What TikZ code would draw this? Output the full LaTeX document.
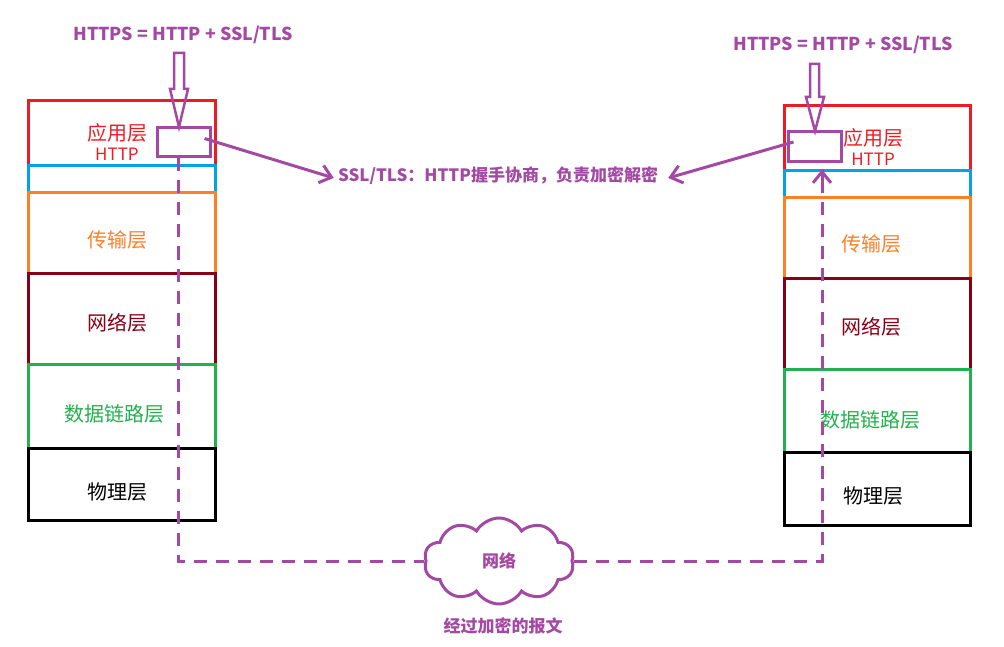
\documentclass[tikz,border=0pt]{standalone}
\usepackage{fontspec}
\setmainfont{Noto Sans CJK SC}
\usetikzlibrary{shapes.symbols,arrows.meta,calc}
\definecolor{cred}{HTML}{ED1C24}
\definecolor{cblue}{HTML}{00A2E8}
\definecolor{corange}{HTML}{FF7F27}
\definecolor{cdred}{HTML}{880015}
\definecolor{cgreen}{HTML}{22B14C}
\definecolor{cpurple}{HTML}{A349A4}
\begin{document}
\begin{tikzpicture}[x=1pt,y=-1pt,
  layerbox/.style={draw,line width=3pt,inner sep=0pt,minimum width=187pt},
  layertext/.style={inner sep=0pt,font=\fontsize{20}{24}\selectfont},
  httptext/.style={inner sep=0pt,text=cred,font=\fontsize{17}{20}\selectfont},
  ptext/.style={inner sep=0pt,text=cpurple,font=\fontsize{17}{20}\selectfont\bfseries},
  ttext/.style={inner sep=0pt,text=cpurple,font=\fontsize{17.8}{20}\selectfont\bfseries},
  smallbox/.style={draw=cpurple,line width=3pt,inner sep=0pt,minimum width=53pt,minimum height=29pt},
  hollow/.style={draw=cpurple,line width=2.5pt,line join=miter},
  pline/.style={draw=cpurple,line width=3pt,-{Straight Barb[length=11pt,width=18pt,line width=3pt]}},
  dline/.style={draw=cpurple,line width=3pt,dash pattern=on 13pt off 9pt}]
\useasboundingbox (0,0) rectangle (1004,647);
% left stack
\node[layerbox,draw=cred,minimum height=65pt] (la) at (121.5,133.5) {};
\node[layerbox,draw=cblue,minimum height=27pt] (lb) at (121.5,179.5) {};
\node[layerbox,draw=corange,minimum height=80pt] (lc) at (121.5,233) {};
\node[layerbox,draw=cdred,minimum height=91pt] (ld) at (121.5,318.5) {};
\node[layerbox,draw=cgreen,minimum height=84pt] (le) at (121.5,406) {};
\node[layerbox,draw=black,minimum height=72pt] (lf) at (121.5,484) {};
\node[layertext,text=cred] (lat) at (117,133) {应用层};
\node[httptext] (lah) at (117,154) {HTTP};
\node[layertext,text=corange] (lct) at (117,240) {传输层};
\node[layertext,text=cdred] (ldt) at (117,323) {网络层};
\node[layertext,text=cgreen] (let) at (114,414) {数据链路层};
\node[layertext,text=black] (lft) at (117,492) {物理层};
% right stack
\node[layerbox,draw=cred,minimum height=65pt,minimum width=186pt] (ra) at (877,138.5) {};
\node[layerbox,draw=cblue,minimum height=27pt,minimum width=186pt] (rb) at (877,184.5) {};
\node[layerbox,draw=corange,minimum height=80pt,minimum width=186pt] (rc) at (877,238) {};
\node[layerbox,draw=cdred,minimum height=91pt,minimum width=186pt] (rd) at (877,323.5) {};
\node[layerbox,draw=cgreen,minimum height=83pt,minimum width=186pt] (re) at (877,410.5) {};
\node[layerbox,draw=black,minimum height=73pt,minimum width=186pt] (rf) at (877,488.5) {};
\node[layertext,text=cred] (rat) at (873,138) {应用层};
\node[httptext] (rah) at (873,159) {HTTP};
\node[layertext,text=corange] (rct) at (871,244) {传输层};
\node[layertext,text=cdred] (rdt) at (871,327) {网络层};
\node[layertext,text=cgreen] (ret) at (870,420) {数据链路层};
\node[layertext,text=black] (rft) at (873,496) {物理层};
% small SSL boxes
\node[smallbox] (lbox) at (183.5,142.5) {};
\node[smallbox,minimum height=30pt] (rbox) at (814.5,147) {};
% titles
\node[ttext] (lt) at (183,35) {HTTPS = HTTP + SSL/TLS};
\node[ttext] (rt) at (843,45) {HTTPS = HTTP + SSL/TLS};
% hollow arrows
\draw[hollow] (174,53) -- (184,53) -- (184,89) -- (188,89) -- (179,127) -- (170,89) -- (174,89) -- cycle;
\draw[hollow] (810,64) -- (819,64) -- (819,97) -- (824,97) -- (815,131) -- (806,97) -- (810,97) -- cycle;
% middle label
\node[ptext] (mid) at (498,176) {SSL/TLS：HTTP握手协商，负责加密解密};
% cloud
\node[cloud,draw=cpurple,line width=3pt,cloud puffs=10,cloud puff arc=120,aspect=1.8,
      inner sep=0pt,minimum width=150pt,minimum height=86pt,ptext] (net) at (499,561) {网络};
\node[ptext] (msg) at (503,626) {经过加密的报文};
% connectors
\coordinate (ls) at ($(lbox.east)+(-7,-4)$);
\coordinate (rs) at ($(rbox.west)+(7,-5)$);
\draw[pline] (ls) -- ($(mid.west)+(-4,2)$);
\draw[pline] (rs) -- ($(mid.east)+(10,2)$);
\coordinate (ldash) at ($(lbox.south)+(-5.5,0)$);
\coordinate (rtip) at ($(rbox.south)+(7.5,6)$);
\draw[dline] (ldash) |- (net.west);
\draw[dline] (net.east) -| (rtip);
\draw[draw=cpurple,line width=3pt,-{Straight Barb[length=11pt,width=18pt,line width=3pt]}] ($(rtip)+(0,12)$) -- (rtip);
\end{tikzpicture}
\end{document}
